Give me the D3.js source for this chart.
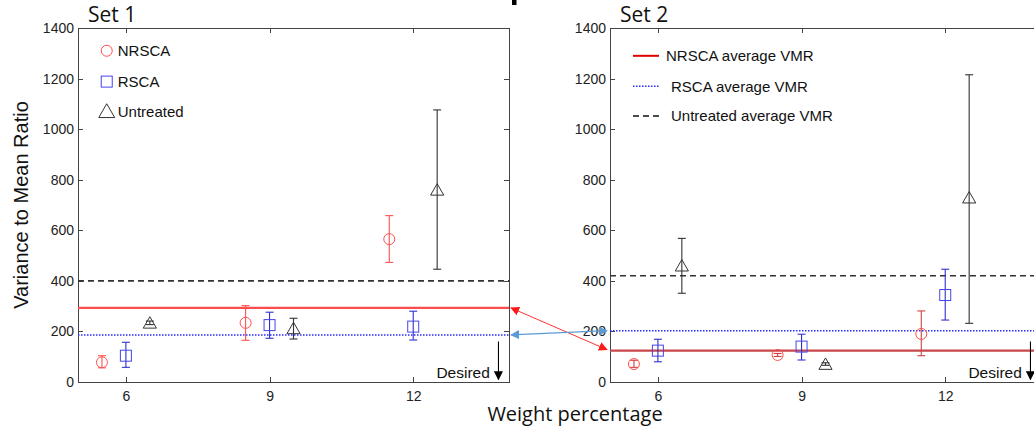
<!DOCTYPE html>
<meta charset="utf-8">
<style>
    body { margin: 0; background: #fff; }
    .tick text { font-family: 'Liberation Sans', Arial, sans-serif; font-size: 14px; fill: #222; }
    .axis path, .axis line { stroke: #444; shape-rendering: crispEdges; }
    .leg { font-family: 'Liberation Sans', Arial, sans-serif; font-size: 15px; fill: #111; }
    .big { font-family: 'Open Sans', sans-serif; font-size: 20px; fill: #111; }
</style>
<body>
<svg id="chart" width="1034" height="427"></svg>
<script src="https://cdn.jsdelivr.net/npm/d3@7"></script>
<script>

// weight percentages (each group is offset a little)
var xNRSCA = [5.5, 8.5, 11.5];
var xRSCA = [6, 9, 12];
var xUntreated = [6.5, 9.5, 12.5];
var xTicks = [6, 9, 12];
var yTicks = [0, 200, 400, 600, 800, 1000, 1200, 1400];

// Set 1
var nrsca1 = [78, 234, 565], nrsca1Lo = [56, 165, 473], nrsca1Hi = [104, 302, 658];
var rsca1 = [104, 225, 219], rsca1Lo = [58, 173, 166], rsca1Hi = [157, 276, 280];
var untr1 = [234, 212, 760], untr1Lo = [227, 170, 446], untr1Hi = [241, 252, 1076];
var avg1 = { nrsca: 293, rsca: 186, untreated: 400 };

// Set 2
var nrsca2 = [71, 107, 190], nrsca2Lo = [58, 101, 104], nrsca2Hi = [86, 113, 281];
var rsca2 = [124, 140, 344], rsca2Lo = [80, 87, 245], rsca2Hi = [169, 189, 446];
var untr2 = [460, 71, 729], untr2Lo = [351, 66, 232], untr2Hi = [568, 76, 1215];
var avg2 = { nrsca: 124, rsca: 203, untreated: 420 };

var svg = d3.select("#chart");
var top_ = 28, bottom = 382, pw = 431;

var y = d3.scaleLinear().domain([0, 1400]).range([bottom, top_]);

var defs = svg.append("defs");
function arrowMarker(id, color) {
    defs.append("marker").attr("id", id)
        .attr("viewBox", "0 0 10 10").attr("refX", 9).attr("refY", 5)
        .attr("markerWidth", 9).attr("markerHeight", 9)
        .attr("markerUnits", "userSpaceOnUse")
        .attr("orient", "auto-start-reverse")
        .append("path").attr("d", "M0,0 L10,5 L0,10 z").attr("fill", color);
}
arrowMarker("ar", "#ff1a1a");
arrowMarker("ab", "#5b9bd5");
arrowMarker("ak", "#000");

function drawPanel(left, title, d, colors) {
    var x = d3.scaleLinear().domain([5, 14]).range([left, left + pw]);
    var g = svg.append("g");

    // box with inward ticks
    g.append("g").attr("class", "axis").attr("transform", "translate(" + left + ",0)")
        .call(d3.axisLeft(y).tickValues(yTicks).tickFormat(d3.format("d"))
            .tickSizeInner(-5).tickSizeOuter(0).tickPadding(4));
    g.append("g").attr("class", "axis").attr("transform", "translate(" + (left + pw) + ",0)")
        .call(d3.axisRight(y).tickValues(yTicks).tickSizeInner(-5).tickSizeOuter(0).tickFormat(""));
    g.append("g").attr("class", "axis").attr("transform", "translate(0," + bottom + ")")
        .call(d3.axisBottom(x).tickValues(xTicks).tickSizeInner(-5).tickSizeOuter(0).tickPadding(9));
    g.append("g").attr("class", "axis").attr("transform", "translate(0," + top_ + ")")
        .call(d3.axisTop(x).tickValues(xTicks).tickSizeInner(-5).tickSizeOuter(0).tickFormat(""));

    g.append("text").attr("class", "big").style("font-size", "21px")
        .attr("x", left + 10).attr("y", 22).text(title);

    // average lines
    g.append("line").attr("x1", x(5)).attr("x2", x(14))
        .attr("y1", y(d.avg.untreated)).attr("y2", y(d.avg.untreated))
        .attr("stroke", "#333").attr("stroke-width", 1.6).attr("stroke-dasharray", "6,4");
    g.append("line").attr("x1", x(5)).attr("x2", x(14))
        .attr("y1", y(d.avg.nrsca)).attr("y2", y(d.avg.nrsca))
        .attr("stroke", colors.avgRed).attr("stroke-width", 2.2);
    g.append("line").attr("x1", x(5)).attr("x2", x(14))
        .attr("y1", y(d.avg.rsca)).attr("y2", y(d.avg.rsca))
        .attr("stroke", "#2b2bff").attr("stroke-width", 1.5).attr("stroke-dasharray", "1.5,1.5");

    // error bars
    function errBars(xs, lo, hi, color) {
        xs.forEach(function (xv, i) {
            var eg = g.append("g").attr("stroke", color).attr("stroke-width", 1.1);
            eg.append("line").attr("x1", x(xv)).attr("x2", x(xv)).attr("y1", y(lo[i])).attr("y2", y(hi[i]));
            eg.append("line").attr("x1", x(xv) - 4).attr("x2", x(xv) + 4).attr("y1", y(lo[i])).attr("y2", y(lo[i]));
            eg.append("line").attr("x1", x(xv) - 4).attr("x2", x(xv) + 4).attr("y1", y(hi[i])).attr("y2", y(hi[i]));
        });
    }
    errBars(d.xN, d.nLo, d.nHi, colors.errN);
    errBars(d.xR, d.rLo, d.rHi, "#3030d0");
    errBars(d.xU, d.uLo, d.uHi, "#333");

    // markers
    g.selectAll(".mc").data(d.n).enter().append("circle")
        .attr("cx", function (v, i) { return x(d.xN[i]); }).attr("cy", function (v) { return y(v); })
        .attr("r", 5.5).attr("fill", "none").attr("stroke", "#ff5050").attr("stroke-width", 1);
    g.selectAll(".ms").data(d.r).enter().append("rect")
        .attr("x", function (v, i) { return x(d.xR[i]) - 5.5; }).attr("y", function (v) { return y(v) - 5.5; })
        .attr("width", 11).attr("height", 11).attr("fill", "none").attr("stroke", "#4545ee").attr("stroke-width", 1);
    var tri = d3.symbol().type(d3.symbolTriangle).size(75);
    g.selectAll(".mt").data(d.u).enter().append("path")
        .attr("d", tri)
        .attr("transform", function (v, i) { return "translate(" + x(d.xU[i]) + "," + (y(v) + 1.5) + ")"; })
        .attr("fill", "none").attr("stroke", "#333").attr("stroke-width", 1);

    // desired arrow
    g.append("line").attr("x1", x(13.78)).attr("x2", x(13.78))
        .attr("y1", y(160)).attr("y2", y(10))
        .attr("stroke", "#000").attr("stroke-width", 1.1).attr("marker-end", "url(#ak)");
    g.append("text").attr("class", "leg").attr("x", x(13.6)).attr("y", y(15))
        .attr("text-anchor", "end").style("font-size", "15.5px").text("Desired");

    return x;
}

var x1 = drawPanel(78, "Set 1", {
    xN: xNRSCA, xR: xRSCA, xU: xUntreated,
    n: nrsca1, nLo: nrsca1Lo, nHi: nrsca1Hi,
    r: rsca1, rLo: rsca1Lo, rHi: rsca1Hi,
    u: untr1, uLo: untr1Lo, uHi: untr1Hi, avg: avg1
}, { avgRed: "#ff4d4d", errN: "#ff5050" });

var x2 = drawPanel(610, "Set 2", {
    xN: xNRSCA, xR: xRSCA, xU: xUntreated,
    n: nrsca2, nLo: nrsca2Lo, nHi: nrsca2Hi,
    r: rsca2, rLo: rsca2Lo, rHi: rsca2Hi,
    u: untr2, uLo: untr2Lo, uHi: untr2Hi, avg: avg2
}, { avgRed: "#c8474a", errN: "#d04040" });

// legend, set 1 (markers)
var leg1 = [
    { name: "NRSCA", v: 1310 },
    { name: "RSCA", v: 1188 },
    { name: "Untreated", v: 1068 }
];
var lx = x1(5.6);
svg.append("circle").attr("cx", lx).attr("cy", y(leg1[0].v)).attr("r", 5.5)
    .attr("fill", "none").attr("stroke", "#ff5050");
svg.append("rect").attr("x", lx - 5.5).attr("y", y(leg1[1].v) - 5.5).attr("width", 11).attr("height", 11)
    .attr("fill", "none").attr("stroke", "#4545ee");
svg.append("path").attr("d", d3.symbol().type(d3.symbolTriangle).size(110))
    .attr("transform", "translate(" + lx + "," + (y(leg1[2].v) + 1) + ")")
    .attr("fill", "none").attr("stroke", "#333");
leg1.forEach(function (l) {
    svg.append("text").attr("class", "leg").attr("x", lx + 11).attr("y", y(l.v) + 5.5).text(l.name);
});

// legend, set 2 (lines)
var leg2 = [
    { name: "NRSCA average VMR", v: 1290, color: "#e00000", dash: null, w: 2, tx: 666 },
    { name: "RSCA average VMR", v: 1170, color: "#2b2bff", dash: "1.5,1.5", w: 1.5, tx: 671 },
    { name: "Untreated average VMR", v: 1052, color: "#111", dash: "6,4", w: 1.6, tx: 671 }
];
leg2.forEach(function (l) {
    svg.append("line").attr("x1", 633).attr("x2", 659).attr("y1", y(l.v)).attr("y2", y(l.v))
        .attr("stroke", l.color).attr("stroke-width", l.w).attr("stroke-dasharray", l.dash);
    svg.append("text").attr("class", "leg").attr("x", l.tx).attr("y", y(l.v) + 5.5).text(l.name);
});

// arrows linking the two sets
svg.append("line")
    .attr("x1", x1(14) + 2).attr("y1", y(avg1.nrsca))
    .attr("x2", x2(5) - 3).attr("y2", y(avg2.nrsca) - 1)
    .attr("stroke", "#ff3333").attr("stroke-width", 1)
    .attr("marker-start", "url(#ar)").attr("marker-end", "url(#ar)");
svg.append("line")
    .attr("x1", x1(14) + 2).attr("y1", y(avg1.rsca))
    .attr("x2", x2(5) - 3).attr("y2", y(avg2.rsca))
    .attr("stroke", "#5b9bd5").attr("stroke-width", 1.2)
    .attr("marker-start", "url(#ab)").attr("marker-end", "url(#ab)");

// axis titles
svg.append("text").attr("class", "big").style("font-family", "'Liberation Sans', Arial, sans-serif")
    .attr("transform", "translate(28," + y(700) + ") rotate(-90)")
    .attr("text-anchor", "middle").text("Variance to Mean Ratio");
svg.append("text").attr("class", "big").attr("x", 575).attr("y", 421)
    .attr("text-anchor", "middle").text("Weight percentage");

// clipped piece of a heading above the plots
svg.append("rect").attr("x", 512).attr("y", 0).attr("width", 4.5).attr("height", 5).attr("fill", "#000");
</script>
</body>
